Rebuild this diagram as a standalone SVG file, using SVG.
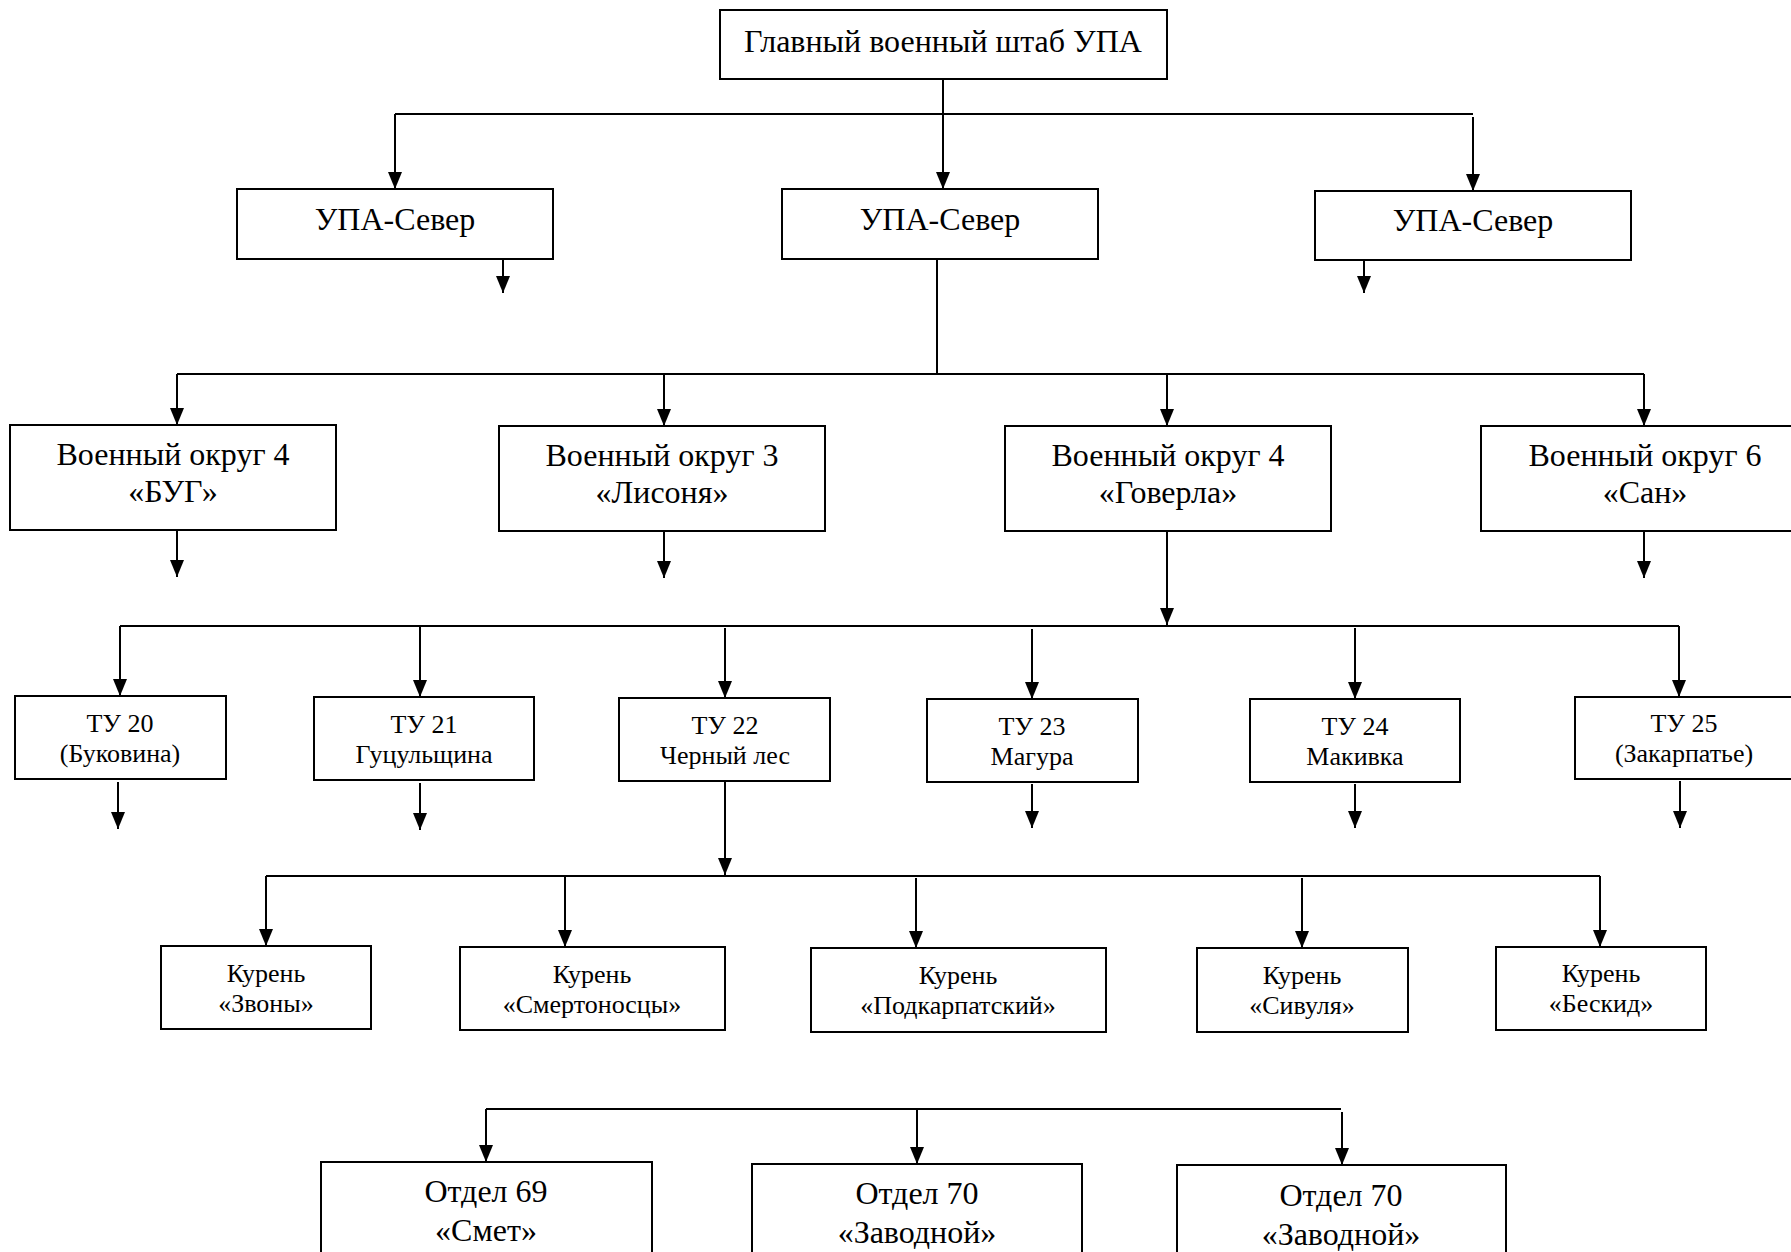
<svg xmlns="http://www.w3.org/2000/svg" width="1791" height="1252" viewBox="0 0 1791 1252">
<style>
.box{fill:#fff;stroke:#000;stroke-width:2}
.ln{fill:none;stroke:#000;stroke-width:2}
.ar{fill:none;stroke:#000;stroke-width:2;marker-end:url(#ah)}
text{font-family:"Liberation Serif","Times New Roman",serif;fill:#000;text-anchor:middle}
.t1{font-size:32px}
.t2{font-size:32px}
.t3{font-size:26px}
.t4{font-size:26px}
</style>
<defs>
<marker id="ah" markerUnits="userSpaceOnUse" markerWidth="17" markerHeight="14" refX="17" refY="7" orient="auto">
<path d="M0,0 L17,7 L0,14 Z" fill="#000"/>
</marker>
</defs>
<rect width="1791" height="1252" fill="#fff"/>

<g id="connectors">
<line class="ar" x1="943" y1="79" x2="943" y2="189"/>
<line class="ln" x1="395" y1="114" x2="1473" y2="114"/>
<line class="ar" x1="395" y1="114" x2="395" y2="189"/>
<line class="ar" x1="1473" y1="117" x2="1473" y2="191"/>
<line class="ar" x1="503" y1="239" x2="503" y2="293"/>
<line class="ar" x1="1364" y1="239" x2="1364" y2="293"/>

<line class="ln" x1="937" y1="259" x2="937" y2="374"/>
<line class="ln" x1="177" y1="374" x2="1644" y2="374"/>
<line class="ar" x1="177" y1="374" x2="177" y2="425"/>
<line class="ar" x1="664" y1="374" x2="664" y2="426"/>
<line class="ar" x1="1167" y1="374" x2="1167" y2="426"/>
<line class="ar" x1="1644" y1="374" x2="1644" y2="426"/>
<line class="ar" x1="177" y1="530" x2="177" y2="577"/>
<line class="ar" x1="664" y1="531" x2="664" y2="578"/>
<line class="ar" x1="1644" y1="531" x2="1644" y2="578"/>
<line class="ar" x1="1167" y1="531" x2="1167" y2="625"/>

<line class="ln" x1="120" y1="626" x2="1679" y2="626"/>
<line class="ar" x1="120" y1="626" x2="120" y2="696"/>
<line class="ar" x1="420" y1="626" x2="420" y2="697"/>
<line class="ar" x1="725" y1="628" x2="725" y2="698"/>
<line class="ar" x1="1032" y1="629" x2="1032" y2="699"/>
<line class="ar" x1="1355" y1="628" x2="1355" y2="699"/>
<line class="ar" x1="1679" y1="626" x2="1679" y2="697"/>
<line class="ar" x1="118" y1="782" x2="118" y2="829"/>
<line class="ar" x1="420" y1="783" x2="420" y2="830"/>
<line class="ar" x1="1032" y1="784" x2="1032" y2="828"/>
<line class="ar" x1="1355" y1="784" x2="1355" y2="828"/>
<line class="ar" x1="1680" y1="781" x2="1680" y2="828"/>
<line class="ar" x1="725" y1="781" x2="725" y2="875"/>

<line class="ln" x1="266" y1="876" x2="1600" y2="876"/>
<line class="ar" x1="266" y1="876" x2="266" y2="946"/>
<line class="ar" x1="565" y1="876" x2="565" y2="947"/>
<line class="ar" x1="916" y1="878" x2="916" y2="948"/>
<line class="ar" x1="1302" y1="878" x2="1302" y2="948"/>
<line class="ar" x1="1600" y1="876" x2="1600" y2="947"/>

<line class="ln" x1="486" y1="1109" x2="1341" y2="1109"/>
<line class="ar" x1="486" y1="1109" x2="486" y2="1162"/>
<line class="ar" x1="917" y1="1109" x2="917" y2="1164"/>
<line class="ar" x1="1342" y1="1112" x2="1342" y2="1165"/>
</g>

<g id="n-top"><rect class="box" x="720" y="10" width="447" height="69"/><text class="t1" x="943" y="52">Главный военный штаб УПА</text></g>

<g id="n-upa1"><rect class="box" x="237" y="189" width="316" height="70"/><text class="t1" x="395" y="230">УПА-Север</text></g>
<g id="n-upa2"><rect class="box" x="782" y="189" width="316" height="70"/><text class="t1" x="940" y="230">УПА-Север</text></g>
<g id="n-upa3"><rect class="box" x="1315" y="191" width="316" height="69"/><text class="t1" x="1473" y="231">УПА-Север</text></g>

<g id="n-vo1"><rect class="box" x="10" y="425" width="326" height="105"/><text class="t2" x="173" y="465">Военный округ 4</text><text class="t2" x="173" y="502">«БУГ»</text></g>
<g id="n-vo2"><rect class="box" x="499" y="426" width="326" height="105"/><text class="t2" x="662" y="466">Военный округ 3</text><text class="t2" x="662" y="503">«Лисоня»</text></g>
<g id="n-vo3"><rect class="box" x="1005" y="426" width="326" height="105"/><text class="t2" x="1168" y="466">Военный округ 4</text><text class="t2" x="1168" y="503">«Говерла»</text></g>
<g id="n-vo4"><rect class="box" x="1481" y="426" width="340" height="105"/><text class="t2" x="1645" y="466">Военный округ 6</text><text class="t2" x="1645" y="503">«Сан»</text></g>

<g id="n-tu20"><rect class="box" x="15" y="696" width="211" height="83"/><text class="t3" x="120" y="732">ТУ 20</text><text class="t3" x="120" y="762">(Буковина)</text></g>
<g id="n-tu21"><rect class="box" x="314" y="697" width="220" height="83"/><text class="t3" x="424" y="733">ТУ 21</text><text class="t3" x="424" y="763">Гуцульщина</text></g>
<g id="n-tu22"><rect class="box" x="619" y="698" width="211" height="83"/><text class="t3" x="725" y="734">ТУ 22</text><text class="t3" x="725" y="764">Черный лес</text></g>
<g id="n-tu23"><rect class="box" x="927" y="699" width="211" height="83"/><text class="t3" x="1032" y="735">ТУ 23</text><text class="t3" x="1032" y="765">Магура</text></g>
<g id="n-tu24"><rect class="box" x="1250" y="699" width="210" height="83"/><text class="t3" x="1355" y="735">ТУ 24</text><text class="t3" x="1355" y="765">Макивка</text></g>
<g id="n-tu25"><rect class="box" x="1575" y="697" width="240" height="82"/><text class="t3" x="1684" y="732">ТУ 25</text><text class="t3" x="1684" y="762">(Закарпатье)</text></g>

<g id="n-k1"><rect class="box" x="161" y="946" width="210" height="83"/><text class="t4" x="266" y="982">Курень</text><text class="t4" x="266" y="1012">«Звоны»</text></g>
<g id="n-k2"><rect class="box" x="460" y="947" width="265" height="83"/><text class="t4" x="592" y="983">Курень</text><text class="t4" x="592" y="1013">«Смертоносцы»</text></g>
<g id="n-k3"><rect class="box" x="811" y="948" width="295" height="84"/><text class="t4" x="958" y="984">Курень</text><text class="t4" x="958" y="1014">«Подкарпатский»</text></g>
<g id="n-k4"><rect class="box" x="1197" y="948" width="211" height="84"/><text class="t4" x="1302" y="984">Курень</text><text class="t4" x="1302" y="1014">«Сивуля»</text></g>
<g id="n-k5"><rect class="box" x="1496" y="947" width="210" height="83"/><text class="t4" x="1601" y="982">Курень</text><text class="t4" x="1601" y="1012">«Бескид»</text></g>

<g id="n-o1"><rect class="box" x="321" y="1162" width="331" height="110"/><text class="t2" x="486" y="1202">Отдел 69</text><text class="t2" x="486" y="1241">«Смет»</text></g>
<g id="n-o2"><rect class="box" x="752" y="1164" width="330" height="110"/><text class="t2" x="917" y="1204">Отдел 70</text><text class="t2" x="917" y="1243">«Заводной»</text></g>
<g id="n-o3"><rect class="box" x="1177" y="1165" width="329" height="110"/><text class="t2" x="1341" y="1206">Отдел 70</text><text class="t2" x="1341" y="1245">«Заводной»</text></g>
</svg>
